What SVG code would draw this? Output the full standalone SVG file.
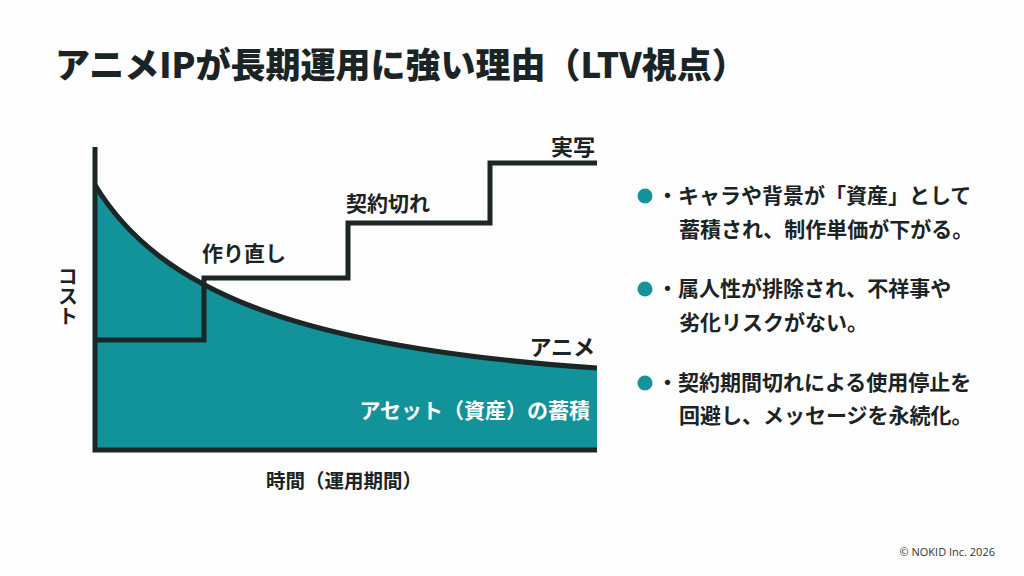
<svg xmlns="http://www.w3.org/2000/svg" width="1024" height="576" viewBox="0 0 1024 576">
<style>
.t{font-family:"Noto Sans CJK JP","Noto Sans",sans-serif;font-weight:700;fill:#1b2424}
.title{font-size:35px;font-weight:900}
.lbl{font-size:21px}
.bl{font-size:21px}
.ln{fill:none;stroke:#1b2626;stroke-width:5;stroke-linejoin:miter}
.dot{fill:#14939b}
</style>
<rect width="1024" height="576" fill="#fdfdfd"/>
<text class="t title" x="55" y="78">アニメIPが長期運用に強い理由（LTV視点）</text>
<g id="chart">
<path d="M95,185 C160,292 300,348 597,368 L597,450 L95,450 Z" fill="#12939a"/>
<text class="t lbl" x="590" y="418" text-anchor="end" style="fill:#ffffff">アセット（資産）の蓄積</text>
</g>
<g id="connectors">
<path class="ln" d="M95,147 L95,450 L597,450"/>
<path class="ln" d="M95,185 C160,292 300,348 597,368"/>
<path class="ln" d="M95,340 L204,340 L204,278 L348,278 L348,223 L490,223 L490,163 L597,163"/>
</g>
<g id="labels">
<text class="t lbl" x="202" y="261">作り直し</text>
<text class="t lbl" x="346" y="211">契約切れ</text>
<text class="t lbl" x="595" y="155" text-anchor="end" style="font-size:22px">実写</text>
<text class="t lbl" x="595" y="355" text-anchor="end" style="font-size:22px">アニメ</text>
<text class="t lbl" x="68" y="266" style="writing-mode:vertical-rl;font-size:20px">コスト</text>
<text class="t lbl" x="344" y="488" text-anchor="middle" style="font-size:19.5px">時間（運用期間）</text>
</g>
<g id="bullet1">
<circle class="dot" cx="645" cy="196" r="7.5"/>
<text class="t bl" x="657" y="203">・キャラや背景が「資産」として</text>
<text class="t bl" x="679" y="237">蓄積され、制作単価が下がる。</text>
</g>
<g id="bullet2">
<circle class="dot" cx="645" cy="289" r="7.5"/>
<text class="t bl" x="657" y="296">・属人性が排除され、不祥事や</text>
<text class="t bl" x="679" y="330">劣化リスクがない。</text>
</g>
<g id="bullet3">
<circle class="dot" cx="645" cy="383" r="7.5"/>
<text class="t bl" x="657" y="390">・契約期間切れによる使用停止を</text>
<text class="t bl" x="679" y="423">回避し、メッセージを永続化。</text>
</g>
<text x="995" y="556" text-anchor="end" style="font-family:'Open Sans','Noto Sans',sans-serif;font-size:11px;fill:#333">© NOKID Inc. 2026</text>
</svg>
